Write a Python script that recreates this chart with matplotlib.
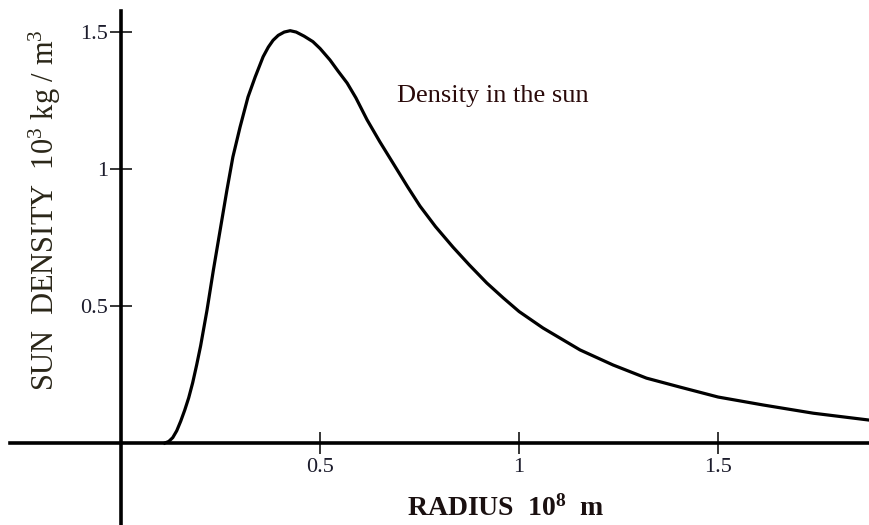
import numpy as np
import matplotlib.pyplot as plt

# density curve (radius in 10^8 m, density in 10^3 kg/m^3)
radius = [0.11, 0.12, 0.13, 0.14, 0.15, 0.16, 0.17, 0.18, 0.19, 0.2,
          0.216, 0.232, 0.249, 0.266, 0.281, 0.299, 0.319, 0.337, 0.357, 0.37,
          0.382, 0.395, 0.41, 0.425, 0.44, 0.46, 0.482, 0.5, 0.525, 0.545,
          0.568, 0.59, 0.618, 0.65, 0.684, 0.72, 0.751, 0.79, 0.834, 0.875,
          0.919, 0.96, 1.0, 1.06, 1.153, 1.236, 1.32, 1.405, 1.5, 1.613,
          1.739, 1.879]
density = [0.0, 0.006, 0.02, 0.045, 0.08, 0.12, 0.165, 0.22, 0.285, 0.355,
           0.485, 0.631, 0.777, 0.923, 1.044, 1.153, 1.263, 1.336, 1.41, 1.445,
           1.47, 1.488, 1.5, 1.505, 1.5, 1.485, 1.465, 1.44, 1.398, 1.358,
           1.314, 1.26, 1.18, 1.1, 1.02, 0.935, 0.865, 0.79, 0.715, 0.65,
           0.584, 0.53, 0.48, 0.42, 0.34, 0.285, 0.237, 0.204, 0.168, 0.139,
           0.109, 0.084]

x_ticks = [0.5, 1, 1.5]
x_tick_labels = ['0.5', '1', '1.5']
y_ticks = [0.5, 1, 1.5]
y_tick_labels = ['0.5', '1', '1.5']

plt.rcParams['font.family'] = ['Liberation Serif', 'DejaVu Serif']
plt.rcParams['mathtext.default'] = 'regular'

fig = plt.figure(figsize=(8.69, 5.25), dpi=100)
ax = fig.add_axes([0, 0, 1, 1])

ax.plot(radius, density, color='black', lw=2.3, solid_joinstyle='round')

ax.set_xlim(-0.304, 1.879)
ax.set_ylim(-0.299, 1.617)

# axes crossing at the origin
ax.spines['top'].set_visible(False)
ax.spines['right'].set_visible(False)
ax.spines['left'].set_position(('data', 0))
ax.spines['bottom'].set_position(('data', 0))
ax.spines['left'].set_bounds(-0.3, 1.577)
ax.spines['bottom'].set_bounds(-0.279, 1.879)
ax.spines['left'].set_linewidth(2.6)
ax.spines['bottom'].set_linewidth(2.6)

ax.set_xticks(x_ticks, x_tick_labels)
ax.set_yticks(y_ticks, y_tick_labels)
ax.tick_params(direction='inout', length=16, width=1.1, labelsize=16,
               colors='black', labelcolor='#1c1c2c')
ax.tick_params(axis='x', pad=3)
ax.tick_params(axis='y', pad=1.5)

fig.text(45 / 869, 1 - 210 / 525, 'SUN  DENSITY  $10^{3}$ kg / m$^{3}$',
         rotation=90, ha='center', va='center', fontsize=22, color='#2a2618')
fig.text(506 / 869, 1 - 516 / 525, 'RADIUS  $10^{8}$  m',
         ha='center', va='baseline', fontsize=20, fontweight='bold',
         color='#1a1010')
ax.text(0.693, 1.245, 'Density in the sun', fontsize=19, color='#2a0a0a',
        va='baseline')

fig.savefig('out.png', dpi=100)
